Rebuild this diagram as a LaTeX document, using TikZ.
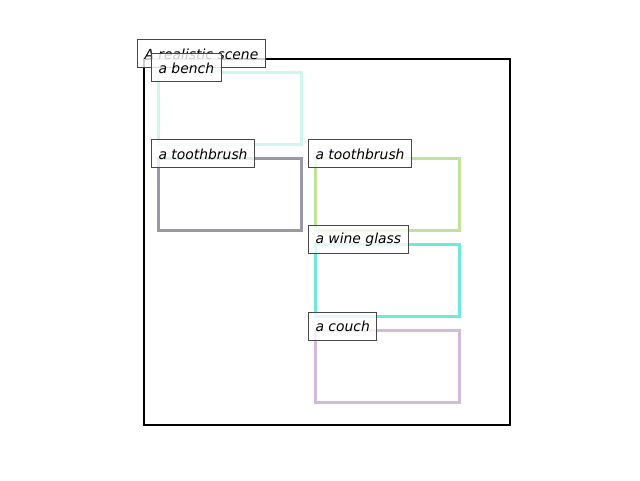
\documentclass[tikz,border=0pt]{standalone}
\usepackage{fontspec}
\setmainfont{DejaVu Sans}
\usetikzlibrary{positioning}

\definecolor{benchcol}{HTML}{CCF7EA}
\definecolor{brushacol}{HTML}{9A97A8}
\definecolor{brushbcol}{HTML}{C1E29A}
\definecolor{glasscol}{HTML}{6EEAD8}
\definecolor{couchcol}{HTML}{D1BBDA}

\tikzset{
	scenebox/.style={draw=black, line width=2.2pt, minimum width=366pt, minimum height=366pt, anchor=north west, inner sep=0pt},
	objbox/.style={line width=2.8pt, minimum width=143pt, minimum height=72pt, anchor=north west, inner sep=0pt},
	tag/.style={draw=black!72, line width=1pt, fill=white, fill opacity=0.8, text opacity=1,
		anchor=west, inner xsep=7pt, inner ysep=0pt, minimum height=28pt,
		font=\fontsize{13.9}{16}\selectfont\itshape},
}

\begin{document}
\begin{tikzpicture}[x=1pt, y=1pt]
	\useasboundingbox (0,0) rectangle (640,480);
	\node[scenebox] (scene) at (143,422) {};
	
	\node[objbox, draw=benchcol] (bench) at (157,409) {};
	\node[objbox, draw=brushacol] (brusha) at (157,323) {};
	\node[objbox, draw=brushbcol, minimum width=144pt] (brushb) at (314,323) {};
	\node[objbox, draw=glasscol, minimum width=144pt] (glass) at (314,237) {};
	\node[objbox, draw=couchcol, minimum width=144pt] (couch) at (314,151) {};
	
	\node[tag] (scenetag) at ([shift={(-6,4)}]scene.north west) {A realistic scene};
	\node[tag] (benchtag) at ([shift={(-6,3)}]bench.north west) {a bench};
	\node[tag] (brushatag) at ([shift={(-6,3)}]brusha.north west) {a toothbrush};
	\node[tag] (brushbtag) at ([shift={(-6,3)}]brushb.north west) {a toothbrush};
	\node[tag] (glasstag) at ([shift={(-6,3)}]glass.north west) {a wine glass};
	\node[tag] (couchtag) at ([shift={(-6,3)}]couch.north west) {a couch};
\end{tikzpicture}
\end{document}
